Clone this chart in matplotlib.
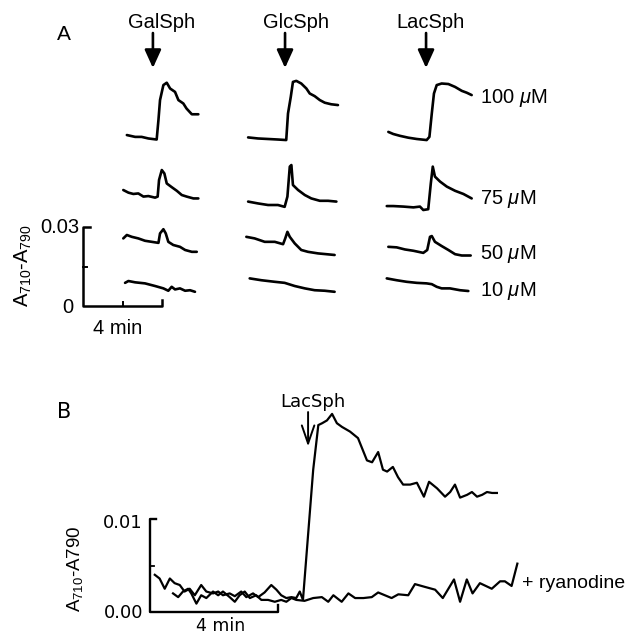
"""
Two-panel absorbance traces (A710-A790) after sphingolipid addition.
"""

import matplotlib
matplotlib.use("Agg")
import matplotlib.pyplot as plt

plt.rcParams["font.family"] = ["Liberation Sans", "DejaVu Sans"]
plt.rcParams["mathtext.fontset"] = "custom"
plt.rcParams["mathtext.rm"] = "Liberation Sans"
plt.rcParams["mathtext.it"] = "Liberation Sans:italic"

# ── Panel A data: time (min, 0 = addition), A710-A790 relative to row reference ──
LIPIDS = ["GalSph", "GlcSph", "LacSph"]
DOSES = [100, 75, 50, 10]

GAL_100_T = [-1.58, -1.16, -0.83, -0.49, -0.07, 0.02, 0.10, 0.27, 0.44, 0.61, 0.86, 1.03, 1.28, 1.44, 1.71, 2.04]
GAL_100_Y = [0.0004, -0.0003, -0.0003, -0.0009, -0.0013, 0.0061, 0.0137, 0.0194, 0.0203, 0.0181, 0.0168, 0.0137, 0.0124, 0.0105, 0.0083, 0.0083]
GAL_75_T = [-1.76, -1.50, -1.25, -1.00, -0.74, -0.49, -0.15, -0.02, 0.05, 0.19, 0.32, 0.44, 0.69, 0.95, 1.20, 1.45, 1.79, 2.04]
GAL_75_Y = [0.0000, -0.0010, -0.0015, -0.0013, -0.0025, -0.0023, -0.0029, -0.0025, 0.0038, 0.0076, 0.0063, 0.0025, 0.0011, -0.0003, -0.0019, -0.0025, -0.0032, -0.0032]
GAL_50_T = [-1.76, -1.58, -1.33, -1.00, -0.66, -0.32, 0.02, 0.10, 0.27, 0.39, 0.52, 0.77, 1.11, 1.37, 1.71, 1.96]
GAL_50_Y = [-0.0005, 0.0008, 0.0001, -0.0005, -0.0014, -0.0018, -0.0022, 0.0014, 0.0030, 0.0014, -0.0018, -0.0030, -0.0037, -0.0049, -0.0056, -0.0056]
GAL_10_T = [-1.67, -1.50, -1.16, -0.66, -0.15, 0.27, 0.52, 0.69, 0.86, 1.11, 1.37, 1.62, 1.87]
GAL_10_Y = [0.0001, 0.0008, 0.0003, -0.0001, -0.0011, -0.0020, -0.0029, -0.0014, -0.0024, -0.0020, -0.0029, -0.0027, -0.0033]

GLC_100_T = [-1.97, -1.47, -0.96, -0.46, -0.04, 0.05, 0.19, 0.30, 0.47, 0.72, 0.98, 1.15, 1.40, 1.66, 1.91, 2.24, 2.58]
GLC_100_Y = [-0.0005, -0.0009, -0.0011, -0.0013, -0.0015, 0.0086, 0.0149, 0.0206, 0.0210, 0.0200, 0.0181, 0.0162, 0.0152, 0.0137, 0.0127, 0.0121, 0.0118]
GLC_75_T = [-1.97, -1.47, -0.96, -0.46, -0.12, 0.02, 0.14, 0.22, 0.30, 0.56, 0.90, 1.23, 1.66, 2.08, 2.50]
GLC_75_Y = [-0.0044, -0.0051, -0.0057, -0.0057, -0.0064, -0.0025, 0.0089, 0.0095, 0.0019, 0.0000, -0.0019, -0.0032, -0.0041, -0.0041, -0.0044]
GLC_50_T = [-2.06, -1.64, -1.13, -0.62, -0.20, -0.09, 0.02, 0.14, 0.39, 0.72, 1.06, 1.57, 1.99, 2.41]
GLC_50_Y = [0.0001, -0.0005, -0.0018, -0.0018, -0.0027, -0.0005, 0.0020, 0.0001, -0.0024, -0.0049, -0.0056, -0.0062, -0.0065, -0.0068]
GLC_10_T = [-1.89, -1.30, -0.62, -0.12, 0.39, 0.90, 1.40, 1.91, 2.41]
GLC_10_Y = [0.0018, 0.0011, 0.0005, 0.0001, -0.0011, -0.0020, -0.0027, -0.0029, -0.0033]

LAC_100_T = [-2.06, -1.81, -1.47, -1.05, -0.62, -0.12, 0.02, 0.14, 0.25, 0.39, 0.64, 0.98, 1.32, 1.66, 1.91, 2.16]
LAC_100_Y = [0.0016, 0.0008, 0.0001, -0.0006, -0.0011, -0.0015, -0.0003, 0.0086, 0.0162, 0.0194, 0.0200, 0.0198, 0.0187, 0.0172, 0.0165, 0.0156]
LAC_75_T = [-2.14, -1.81, -1.30, -0.79, -0.46, -0.29, -0.04, 0.09, 0.19, 0.30, 0.56, 0.90, 1.32, 1.74, 2.16]
LAC_75_Y = [-0.0061, -0.0061, -0.0063, -0.0066, -0.0063, -0.0076, -0.0073, 0.0025, 0.0089, 0.0051, 0.0032, 0.0013, -0.0003, -0.0015, -0.0032]
LAC_50_T = [-2.06, -1.64, -1.22, -0.79, -0.29, -0.09, 0.05, 0.14, 0.30, 0.64, 0.98, 1.32, 1.66, 2.11]
LAC_50_Y = [-0.0037, -0.0039, -0.0047, -0.0052, -0.0060, -0.0049, 0.0001, 0.0004, -0.0018, -0.0034, -0.0049, -0.0065, -0.0070, -0.0070]
LAC_10_T = [-2.14, -1.64, -1.13, -0.62, -0.12, 0.14, 0.39, 0.64, 1.06, 1.57, 1.99]
LAC_10_Y = [0.0018, 0.0011, 0.0005, 0.0001, -0.0001, -0.0004, -0.0014, -0.0020, -0.0020, -0.0027, -0.0030]

# ── Panel B data: time (min) and A710-A790 ──
CTRL_T = [0.15, 0.30, 0.46, 0.62, 0.77, 0.93, 1.08, 1.24, 1.40, 1.60, 1.76, 1.97, 2.13, 2.28, 2.49,
          2.65, 2.85, 3.01, 3.22, 3.38, 3.58, 3.79, 3.95, 4.10, 4.26, 4.42, 4.57, 4.68, 4.78, 5.10,
          5.26, 5.38, 5.53, 5.69, 5.84, 6.00, 6.25, 6.50, 6.78, 6.94, 7.13, 7.28, 7.41, 7.59, 7.75,
          7.91, 8.13, 8.34, 8.56, 8.72, 8.97, 9.22, 9.38, 9.53, 9.69, 9.91, 10.06, 10.22, 10.38,
          10.53, 10.69, 10.84]
CTRL_Y = [0.0040, 0.0036, 0.0025, 0.0036, 0.0031, 0.0029, 0.0022, 0.0025, 0.0018, 0.0029, 0.0022,
          0.0020, 0.0022, 0.0018, 0.0020, 0.0017, 0.0022, 0.0016, 0.0020, 0.0016, 0.0021, 0.0029,
          0.0024, 0.0018, 0.0015, 0.0016, 0.0015, 0.0022, 0.0013, 0.0153, 0.0201, 0.0203, 0.0206,
          0.0213, 0.0203, 0.0199, 0.0194, 0.0187, 0.0163, 0.0161, 0.0172, 0.0153, 0.0151, 0.0156,
          0.0145, 0.0137, 0.0137, 0.0139, 0.0124, 0.0140, 0.0133, 0.0124, 0.0129, 0.0137, 0.0123,
          0.0126, 0.0129, 0.0124, 0.0126, 0.0129, 0.0128, 0.0128]
RYAN_T = [0.72, 0.88, 1.03, 1.19, 1.29, 1.45, 1.60, 1.76, 1.97, 2.13, 2.28, 2.49, 2.65, 2.80, 2.96,
          3.12, 3.32, 3.48, 3.69, 3.90, 4.10, 4.26, 4.42, 4.57, 4.83, 5.10, 5.37, 5.57, 5.73, 5.99,
          6.20, 6.41, 6.67, 6.93, 7.13, 7.34, 7.55, 7.76, 8.07, 8.28, 8.59, 8.91, 9.15, 9.50, 9.69,
          9.90, 10.08, 10.31, 10.68, 10.94, 11.09, 11.30, 11.48]
RYAN_Y = [0.0020, 0.0016, 0.0022, 0.0025, 0.0020, 0.0009, 0.0018, 0.0015, 0.0022, 0.0018, 0.0022,
          0.0016, 0.0011, 0.0018, 0.0022, 0.0015, 0.0018, 0.0013, 0.0013, 0.0011, 0.0013, 0.0011,
          0.0015, 0.0013, 0.0012, 0.0015, 0.0016, 0.0011, 0.0018, 0.0011, 0.0020, 0.0015, 0.0015,
          0.0016, 0.0021, 0.0018, 0.0015, 0.0019, 0.0018, 0.0030, 0.0027, 0.0024, 0.0015, 0.0035,
          0.0011, 0.0035, 0.0020, 0.0031, 0.0025, 0.0033, 0.0033, 0.0028, 0.0052]

# ── layout ──
A_COL_X = [3.80, 10.33, 17.52]      # where each addition sits on panel-A time axis
A_ARROW_X = [3.54, 10.23, 17.37]
A_NAME_X = [3.97, 10.76, 17.62]
A_ROW_Y = {100: 0.0646, 75: 0.0441, 50: 0.0262, 10: 0.0087}
A_DOSE_Y = {100: 0.0772, 75: 0.0388, 50: 0.0179, 10: 0.0038}
A_DOSE_X = 20.10

traces_a = {
    "GalSph": {100: (GAL_100_T, GAL_100_Y), 75: (GAL_75_T, GAL_75_Y), 50: (GAL_50_T, GAL_50_Y), 10: (GAL_10_T, GAL_10_Y)},
    "GlcSph": {100: (GLC_100_T, GLC_100_Y), 75: (GLC_75_T, GLC_75_Y), 50: (GLC_50_T, GLC_50_Y), 10: (GLC_10_T, GLC_10_Y)},
    "LacSph": {100: (LAC_100_T, LAC_100_Y), 75: (LAC_75_T, LAC_75_Y), 50: (LAC_50_T, LAC_50_Y), 10: (LAC_10_T, LAC_10_Y)},
}

fig = plt.figure(figsize=(6.31, 6.37), dpi=100, facecolor="white")

# ── Panel A ──
ax_a = fig.add_axes([0, 297 / 637, 1, 340 / 637])
ax_a.set_xlim(-83 / 19.75, 548 / 19.75)
ax_a.set_ylim(-34 / 2630, 306 / 2630)
ax_a.axis("off")

for lipid, cx, arx, nx in zip(LIPIDS, A_COL_X, A_ARROW_X, A_NAME_X):
    for dose in DOSES:
        t, y = traces_a[lipid][dose]
        ax_a.plot([cx + v for v in t], [A_ROW_Y[dose] + v for v in y],
                  color="black", lw=1.9, solid_joinstyle="round", solid_capstyle="round")
    ax_a.annotate("", xy=(arx, 0.0905), xytext=(arx, 0.1038),
                  arrowprops=dict(arrowstyle="-|>,head_length=1.1,head_width=0.5",
                                  lw=1.9, color="black", shrinkA=0, shrinkB=0))
    ax_a.text(nx, 0.1057, lipid, fontsize=14.5, ha="center", va="baseline")

for dose in DOSES:
    ax_a.text(A_DOSE_X, A_DOSE_Y[dose], f"{dose} $\\mu$M", fontsize=14.5, ha="left", va="baseline")

# scale bar: 0.03 absorbance, 4 min
ax_a.plot([0.34, 0, 0, 4, 4], [0.03, 0.03, 0, 0, 0.0022], color="black", lw=1.8)
ax_a.plot([0, 0.2], [0.015, 0.015], color="black", lw=1.4)
ax_a.plot([2, 2], [0, 0.0015], color="black", lw=1.4)
ax_a.text(-0.20, 0.0297, "0.03", fontsize=14.5, ha="right", va="center")
ax_a.text(-0.51, -0.0004, "0", fontsize=14.5, ha="right", va="center")
ax_a.text(1.77, -0.0084, "4 min", fontsize=14.5, ha="center", va="center")
ax_a.text(-3.04, 0.0152, "A$_{710}$-A$_{790}$", fontsize=14.5, rotation=90, ha="center", va="center")
fig.text(64 / 631, 1 - 35 / 637, "A", fontsize=15, ha="center", va="center")

# ── Panel B ──
ax_b = fig.add_axes([0, 0, 1, 277 / 637])
ax_b.set_xlim(-150 / 32, 481 / 32)
ax_b.set_ylim(-25 / 9300, 252 / 9300)
ax_b.axis("off")

ax_b.plot(CTRL_T, CTRL_Y, color="black", lw=1.6, solid_joinstyle="round")
ax_b.plot(RYAN_T, RYAN_Y, color="black", lw=1.6, solid_joinstyle="round")

ax_b.annotate("", xy=(4.94, 0.0178), xytext=(4.94, 0.0215),
              arrowprops=dict(arrowstyle="->,head_length=1.3,head_width=0.45",
                              lw=1.4, color="black", shrinkA=0, shrinkB=0))
ax_b.text(5.08, 0.0220, "LacSph", fontsize=13, family="DejaVu Sans", ha="center", va="baseline")
ax_b.text(11.625, 0.0031, "+ ryanodine", fontsize=14, ha="left", va="center")

# scale bar: 0.01 absorbance, 4 min
ax_b.plot([0.19, 0, 0, 4, 4], [0.01, 0.01, 0, 0, 0.00075], color="black", lw=1.7)
ax_b.plot([0, 0.12], [0.005, 0.005], color="black", lw=1.3)
ax_b.text(-0.22, 0.0096, "0.01", fontsize=13, family="DejaVu Sans", ha="right", va="center")
ax_b.text(-0.22, -0.0001, "0.00", fontsize=13, family="DejaVu Sans", ha="right", va="center")
ax_b.text(2.22, -0.00155, "4 min", fontsize=12.5, family="DejaVu Sans", ha="center", va="center")
ax_b.text(-2.34, 0.0047, "A$_{710}$-A790", fontsize=13.5, rotation=90, ha="center", va="center")
fig.text(64 / 631, 1 - 412 / 637, "B", fontsize=15, family="DejaVu Sans", ha="center", va="center")

fig.savefig("out.png", dpi=100, facecolor="white")
plt.close(fig)
